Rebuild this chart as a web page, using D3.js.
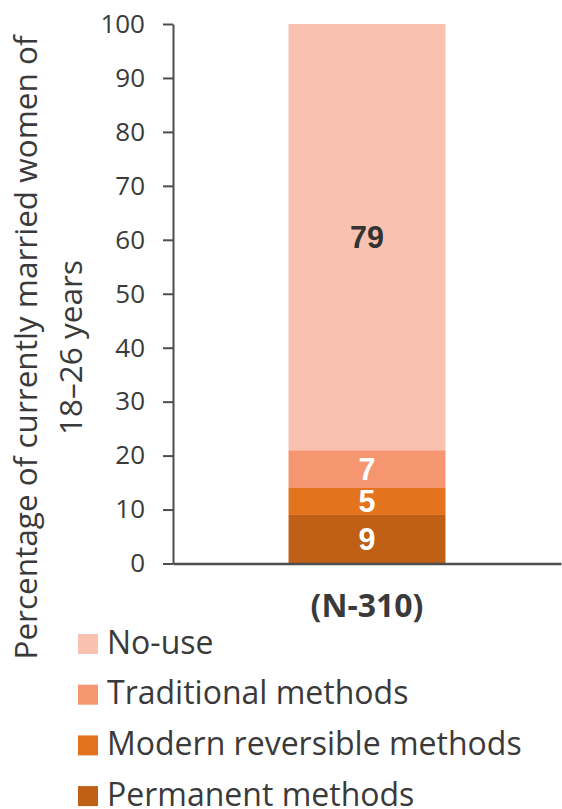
<!DOCTYPE html>
<html>
<head>
<meta charset="utf-8">
<script src="https://cdn.jsdelivr.net/npm/d3@7"></script>
<style>
  html, body { margin: 0; padding: 0; background: #fff; }
  svg { display: block; }
</style>
</head>
<body>
<svg id="chart" width="562" height="809"></svg>
<script>
// Contraceptive use among currently married women aged 18–26 (N=310)
const categories = ["(N-310)"];
const seriesNames = ["Permanent methods", "Modern reversible methods", "Traditional methods", "No-use"];
const permanent = [9];
const modernReversible = [5];
const traditional = [7];
const noUse = [79];
const yTicks = [0, 10, 20, 30, 40, 50, 60, 70, 80, 90, 100];
const legendOrder = ["No-use", "Traditional methods", "Modern reversible methods", "Permanent methods"];

const colors = {
  "Permanent methods": "#c06017",
  "Modern reversible methods": "#e4731e",
  "Traditional methods": "#f59670",
  "No-use": "#f9c2b0"
};
const labelColors = {
  "Permanent methods": "#ffffff",
  "Modern reversible methods": "#ffffff",
  "Traditional methods": "#ffffff",
  "No-use": "#333333"
};

const seriesValues = {
  "Permanent methods": permanent,
  "Modern reversible methods": modernReversible,
  "Traditional methods": traditional,
  "No-use": noUse
};

const rows = categories.map((c, i) => {
  const r = { category: c };
  seriesNames.forEach(s => { r[s] = seriesValues[s][i]; });
  return r;
});

const svg = d3.select("#chart");
const textColor = "#3a3a3a";
const axisColor = "#4d4d4d";

const x = d3.scaleBand().domain(categories).range([173, 561]).padding(0.424);
const y = d3.scaleLinear().domain([0, 100]).range([563.5, 24]);

const stack = d3.stack().keys(seriesNames);
const stacked = stack(rows);

// Stacked bar segments
const layers = svg.append("g")
  .selectAll("g")
  .data(stacked)
  .join("g")
  .attr("fill", d => colors[d.key]);

layers.selectAll("rect")
  .data(d => d.map(v => Object.assign(v, { key: d.key })))
  .join("rect")
  .attr("x", d => x(d.data.category))
  .attr("width", x.bandwidth())
  .attr("y", d => y(d[1]))
  .attr("height", d => y(d[0]) - y(d[1]));

// Value labels centred in each segment
layers.selectAll("text")
  .data(d => d)
  .join("text")
  .attr("x", d => x(d.data.category) + x.bandwidth() / 2)
  .attr("y", d => y((d[0] + d[1]) / 2))
  .attr("dy", "0.36em")
  .attr("text-anchor", "middle")
  .attr("font-family", "'Liberation Sans', Arial, sans-serif")
  .attr("font-weight", "bold")
  .attr("font-size", 30.5)
  .attr("fill", d => labelColors[d.key])
  .text(d => d3.format("d")(d[1] - d[0]));

// Y axis
const yAxis = svg.append("g")
  .attr("transform", "translate(173,0)")
  .call(d3.axisLeft(y).tickValues(yTicks).tickSize(10).tickSizeOuter(0).tickPadding(18));
yAxis.select(".domain").attr("stroke", axisColor).attr("stroke-width", 2);
yAxis.selectAll(".tick line").attr("stroke", axisColor).attr("stroke-width", 2);
yAxis.selectAll(".tick text")
  .attr("font-family", "'Open Sans', sans-serif")
  .attr("font-size", 26)
  .attr("fill", textColor);

// X axis
const xAxis = svg.append("g")
  .attr("transform", `translate(0,${y(0)})`)
  .call(d3.axisBottom(x).tickSize(0).tickSizeOuter(0).tickPadding(31));
xAxis.select(".domain").attr("stroke", axisColor).attr("stroke-width", 2.5);
xAxis.selectAll(".tick text")
  .attr("font-family", "'Open Sans', sans-serif")
  .attr("font-weight", "bold")
  .attr("font-size", 32)
  .attr("fill", textColor);

// Y axis title (two lines)
const title = svg.append("text")
  .attr("transform", "translate(0,347.5) rotate(-90)")
  .attr("text-anchor", "middle")
  .attr("font-family", "'Open Sans', sans-serif")
  .attr("font-size", 31.5)
  .attr("fill", textColor);
title.append("tspan").attr("x", 0).attr("y", 37).text("Percentage of currently married women of");
title.append("tspan").attr("x", 0).attr("y", 82).text("18–26 years");

// Legend
const legend = svg.append("g")
  .selectAll("g")
  .data(legendOrder)
  .join("g")
  .attr("transform", (d, i) => `translate(78,${634 + i * 50.7})`);
legend.append("rect")
  .attr("width", 20)
  .attr("height", 20)
  .attr("fill", d => colors[d]);
legend.append("text")
  .attr("x", 29)
  .attr("y", 19.5)
  .attr("font-family", "'Open Sans', sans-serif")
  .attr("font-size", 32)
  .attr("fill", textColor)
  .text(d => d);
</script>
</body>
</html>
